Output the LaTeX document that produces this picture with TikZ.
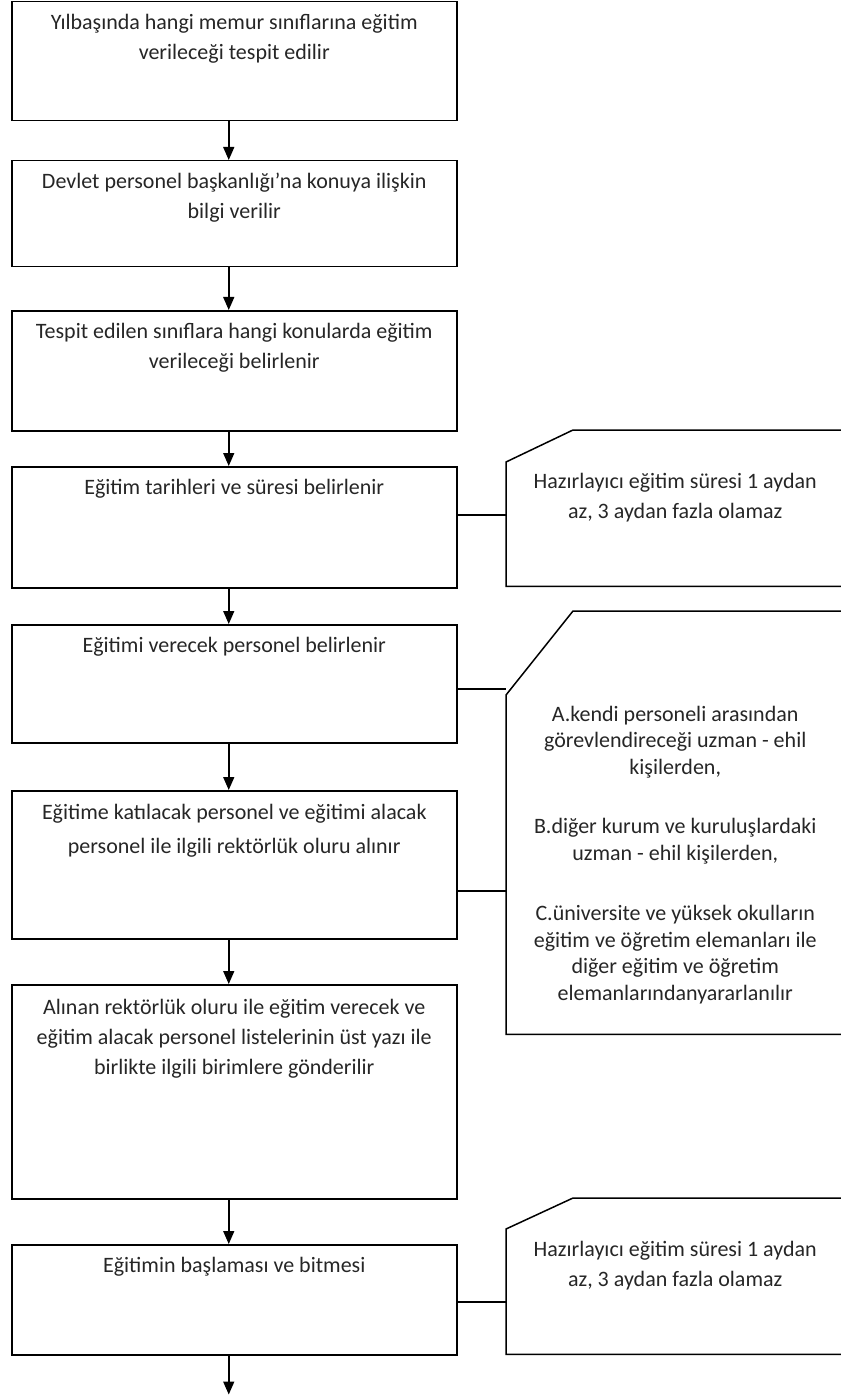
\documentclass[tikz,border=0pt]{standalone}
\usepackage{fontspec}
\setmainfont{Carlito}
\usetikzlibrary{arrows.meta, positioning, math, calc}

\begin{document}
\begin{tikzpicture}[x=1pt, y=-1pt]
	\tikzmath{
		\boxL  = 11;    %left edge of the steps
		\boxW  = 445;   %step width
		\noteL = 506;   %left edge of the notes
		\noteW = 338;   %note width
		\arrX  = -5.5;  %arrows sit a bit left of the middle
	}
	\tikzstyle{Box} = [
		draw=black,
		line width=1.5pt,
		minimum width=\boxW pt,
		inner sep=0pt,
		anchor=north west
	]
	\tikzstyle{Note} = [
		minimum width=\noteW pt,
		inner sep=0pt,
		anchor=north west
	]
	\tikzstyle{Txt} = [
		align=center,
		inner sep=0pt,
		text=black!85,
		font=\fontsize{22}{30}\selectfont
	]
	\tikzstyle{Line} = [line width=1.5pt]
	\tikzstyle{Arr} = [line width=1.5pt, -{Triangle[length=13pt, width=11pt]}]

	\useasboundingbox (0,0) rectangle (840,1396);

	% steps
	\node (b1) [Box, minimum height=119pt] at (\boxL, 1) {};
	\node (b2) [Box, minimum height=106pt] at (\boxL, 160) {};
	\node (b3) [Box, minimum height=120pt] at (\boxL, 310) {};
	\node (b4) [Box, minimum height=121pt] at (\boxL, 466) {};
	\node (b5) [Box, minimum height=118pt] at (\boxL, 624) {};
	\node (b6) [Box, minimum height=148pt] at (\boxL, 790) {};
	\node (b7) [Box, minimum height=214pt] at (\boxL, 984) {};
	\node (b8) [Box, minimum height=110pt] at (\boxL, 1244) {};

	\node [Txt, below=13pt of b1.north] {Yılbaşında hangi memur sınıflarına eğitim\\verileceği tespit edilir};
	\node [Txt, below=13pt of b2.north] {Devlet personel başkanlığı’na konuya ilişkin\\bilgi verilir};
	\node [Txt, below=13pt of b3.north] {Tespit edilen sınıflara hangi konularda eğitim\\verileceği belirlenir};
	\node [Txt, below=13pt of b4.north] {Eğitim tarihleri ve süresi belirlenir};
	\node [Txt, below=13pt of b5.north] {Eğitimi verecek personel belirlenir};
	\node [Txt, below=14pt of b6.north] {Eğitime katılacak personel ve eğitimi alacak\\[4pt]personel ile ilgili rektörlük oluru alınır};
	\node [Txt, below=15pt of b7.north] {Alınan rektörlük oluru ile eğitim verecek ve\\eğitim alacak personel listelerinin üst yazı ile\\birlikte ilgili birimlere gönderilir};
	\node [Txt, below=13pt of b8.north] {Eğitimin başlaması ve bitmesi};

	% arrows between the steps
	\foreach \a/\b in {b1/b2, b2/b3, b3/b4, b4/b5, b5/b6, b6/b7, b7/b8}
		\draw [Arr] ([xshift=\arrX pt]\a.south) -- ([xshift=\arrX pt]\b.north);
	\coordinate (end) at ($(b8.south)+(\arrX,39)$);
	\draw [Arr] ([xshift=\arrX pt]b8.south) -- (end);

	% notes
	\node (n1) [Note, minimum height=156pt] at (\noteL, 430) {};
	\node (n2) [Note, minimum height=423pt] at (\noteL, 611) {};
	\node (n3) [Note, minimum height=156pt] at (\noteL, 1198) {};

	\draw [Line] (n1.south west) -- ($(n1.north west)+(0,32)$) -- ($(n1.north west)+(67,0)$) --
		(n1.north east) -- (n1.south east) -- cycle;
	\draw [Line] (n2.south west) -- ($(n2.north west)+(0,84)$) -- ($(n2.north west)+(67,0)$) --
		(n2.north east) -- (n2.south east) -- cycle;
	\draw [Line] (n3.south west) -- ($(n3.north west)+(0,31)$) -- ($(n3.north west)+(67,0)$) --
		(n3.north east) -- (n3.south east) -- cycle;

	\node [Txt, below=43pt of n1.north] {Hazırlayıcı eğitim süresi 1 aydan\\az, 3 aydan fazla olamaz};
	\node [Txt, below=95pt of n2.north, font=\fontsize{22}{26.5}\selectfont] {A.kendi personeli arasından\\görevlendireceği uzman - ehil\\kişilerden,\\[33pt]B.diğer kurum ve kuruluşlardaki\\uzman - ehil kişilerden,\\[34pt]C.üniversite ve yüksek okulların\\eğitim ve öğretim elemanları ile\\diğer eğitim ve öğretim\\elemanlarındanyararlanılır};
	\node [Txt, below=43pt of n3.north] {Hazırlayıcı eğitim süresi 1 aydan\\az, 3 aydan fazla olamaz};

	% lines to the notes
	\coordinate (k1) at ([yshift=12.5pt]b4.east);
	\coordinate (k2) at ([yshift=-5pt]b5.east);
	\coordinate (k3) at ([yshift=-26pt]b6.east);
	\coordinate (k4) at ([yshift=-2pt]b8.east);
	\draw [Line] (k1) -- (k1 -| n1.west);
	\draw [Line] (k2) -- (k2 -| n2.west);
	\draw [Line] (k3) -- (k3 -| n2.west);
	\draw [Line] (k4) -- (k4 -| n3.west);
\end{tikzpicture}
\end{document}
